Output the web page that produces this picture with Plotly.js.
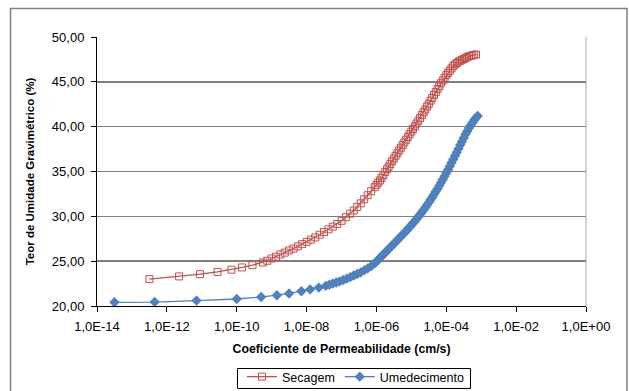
<!DOCTYPE html>
<html>
<head>
<meta charset="utf-8">
<script src="https://cdn.plot.ly/plotly-3.0.1.min.js"></script>
<style>
html,body{margin:0;padding:0;background:#fff;}
#chart{width:629px;height:391px;}
</style>
</head>
<body>
<div id="chart"></div>
<script>
// Secagem (drying) series: permeability (cm/s) and gravimetric moisture (%)
var secagemK = [3.16e-13,2.24e-12,8.91e-12,2.82e-11,7.08e-11,1.41e-10,2.82e-10,5.62e-10,
  7.50e-10,1e-9,1.33e-9,1.78e-9,2.37e-9,3.16e-9,4.22e-9,5.62e-9,7.50e-9,1e-8,1.33e-8,1.78e-8,2.37e-8,3.16e-8,4.22e-8,5.62e-8,7.50e-8,1e-7,1.33e-7,1.78e-7,
  2.24e-7,2.82e-7,3.55e-7,4.47e-7,5.62e-7,7.08e-7,8.91e-7,1e-6,1.12e-6,1.26e-6,1.41e-6,1.58e-6,1.78e-6,2.0e-6,2.24e-6,2.51e-6,2.82e-6,3.16e-6,3.55e-6,3.98e-6,4.47e-6,5.01e-6,5.62e-6,6.31e-6,7.08e-6,7.94e-6,8.91e-6,
  1e-5,1.12e-5,1.26e-5,1.41e-5,1.58e-5,1.78e-5,2.0e-5,2.24e-5,2.51e-5,2.82e-5,3.16e-5,3.55e-5,3.98e-5,4.47e-5,5.01e-5,5.62e-5,6.31e-5,7.08e-5,7.94e-5,8.91e-5,
  1e-4,1.12e-4,1.26e-4,1.41e-4,1.58e-4,1.78e-4,2.0e-4,2.24e-4,2.51e-4,2.82e-4,3.16e-4,3.55e-4,3.98e-4,4.47e-4,5.01e-4,5.62e-4,6.31e-4,7.08e-4];
var secagemW = [23.0,23.3,23.55,23.8,24.05,24.3,24.55,24.85,
  25.05,25.3,25.5,25.75,25.95,26.2,26.4,26.65,26.9,27.15,27.4,27.65,27.95,28.25,28.55,28.85,29.15,29.5,29.9,30.3,
  30.65,31.05,31.45,31.9,32.35,32.8,33.25,33.5,33.75,34.0,34.3,34.6,34.95,35.25,35.55,35.85,36.15,36.45,36.75,37.05,37.35,37.65,37.95,38.25,38.55,38.85,39.15,
  39.45,39.75,40.05,40.35,40.65,40.95,41.3,41.6,41.9,42.25,42.55,42.9,43.2,43.55,43.85,44.2,44.5,44.85,45.15,45.45,
  45.75,46.0,46.25,46.5,46.75,46.95,47.1,47.25,47.35,47.45,47.55,47.65,47.75,47.85,47.9,47.95,48.0,48.05];

// Umedecimento (wetting) series
var umedK = [3.16e-14,4.47e-13,7.08e-12,1.0e-10,5.01e-10,1.41e-9,3.16e-9,7.08e-9,1.26e-8,2.24e-8,3.55e-8,
  4.47e-8,5.62e-8,7.08e-8,8.91e-8,1.12e-7,1.41e-7,1.78e-7,2.24e-7,2.82e-7,3.55e-7,4.47e-7,5.62e-7,7.08e-7,8.91e-7,
  1e-6,1.12e-6,1.26e-6,1.41e-6,1.58e-6,1.78e-6,2.0e-6,2.24e-6,2.51e-6,2.82e-6,3.16e-6,3.55e-6,3.98e-6,4.47e-6,5.01e-6,5.62e-6,6.31e-6,7.08e-6,7.94e-6,8.91e-6,
  1e-5,1.12e-5,1.26e-5,1.41e-5,1.58e-5,1.78e-5,2.0e-5,2.24e-5,2.51e-5,2.82e-5,3.16e-5,3.55e-5,3.98e-5,4.47e-5,5.01e-5,5.62e-5,6.31e-5,7.08e-5,7.94e-5,8.91e-5,
  1e-4,1.12e-4,1.26e-4,1.41e-4,1.58e-4,1.78e-4,2.0e-4,2.24e-4,2.51e-4,2.82e-4,3.16e-4,3.55e-4,3.98e-4,4.47e-4,5.01e-4,5.62e-4,6.31e-4,7.08e-4,7.94e-4];
var umedW = [20.41,20.44,20.6,20.78,21.0,21.2,21.4,21.65,21.85,22.05,22.25,
  22.37,22.5,22.62,22.75,22.9,23.05,23.22,23.4,23.57,23.75,23.97,24.2,24.45,24.75,
  24.95,25.15,25.35,25.55,25.75,25.95,26.15,26.35,26.55,26.75,26.95,27.15,27.35,27.55,27.75,27.95,28.15,28.35,28.6,28.8,
  29.0,29.25,29.45,29.7,29.95,30.2,30.46,30.72,30.99,31.27,31.55,31.84,32.14,32.45,32.77,33.09,33.42,33.76,34.11,34.47,
  34.83,35.2,35.58,35.97,36.36,36.75,37.15,37.55,37.95,38.35,38.75,39.15,39.5,39.85,40.15,40.45,40.75,41.0,41.2];

var xTickVals = [1e-14,1e-12,1e-10,1e-8,1e-6,1e-4,1e-2,1];
var xTickText = ["1,0E-14","1,0E-12","1,0E-10","1,0E-08","1,0E-06","1,0E-04","1,0E-02","1,0E+00"];
var seriesNames = ["Secagem","Umedecimento"];

var FONT = "'Liberation Sans', Arial, sans-serif";
var RED = "#C0504D", BLUE = "#4F81BD";

var traces = [
  {x: secagemK, y: secagemW, name: seriesNames[0], type: "scatter", mode: "lines+markers",
   line: {color: RED, width: 1.3},
   marker: {symbol: "square-open", size: 7, color: RED, line: {color: RED, width: 1}}},
  {x: umedK, y: umedW, name: seriesNames[1], type: "scatter", mode: "lines+markers",
   line: {color: BLUE, width: 1.3},
   marker: {symbol: "diamond", size: 8, color: BLUE, line: {width: 0}}}
];

// frame in paper coords: plot area x 97..586, y 37..306
function px(x){return (x-97)/489;}
function py(y){return (306-y)/269;}

var layout = {
  width: 629, height: 391,
  margin: {l: 97, r: 43, t: 37, b: 85, autoexpand: false},
  paper_bgcolor: "#fff", plot_bgcolor: "#fff",
  separators: ",.",
  font: {family: FONT, size: 12, color: "#000"},
  showlegend: true,
  legend: {orientation: "h", x: px(242), y: py(362), xanchor: "left", yanchor: "top",
           borderwidth: 0, bgcolor: "rgba(0,0,0,0)", font: {family: FONT, size: 12.5, color: "#000"},
           itemwidth: 30, tracegroupgap: 0},
  xaxis: {type: "log", range: [-14, 0], tickmode: "array", tickvals: xTickVals, ticktext: xTickText,
          showgrid: false, zeroline: false, showline: true, linecolor: "#000", linewidth: 1,
          ticks: "outside", ticklen: 5, tickcolor: "#000", tickfont: {family: FONT, size: 13, color: "#000"},
          ticklabelstandoff: 3, automargin: false,
          title: {text: "<b>Coeficiente de Permeabilidade (cm/s)</b>", font: {family: FONT, size: 12.3, color: "#000"}, standoff: 11}},
  yaxis: {range: [20, 50], dtick: 5, tick0: 20, tickformat: ".2f",
          showgrid: true, gridcolor: "#7F7F7F", gridwidth: 1.5, zeroline: false,
          showline: true, linecolor: "#000", linewidth: 1, automargin: false,
          ticks: "outside", ticklen: 5, tickcolor: "#000", tickfont: {family: FONT, size: 13, color: "#000"},
          ticklabelstandoff: 4,
          title: {text: "<b>Teor de Umidade Gravimétrico (%)</b>", font: {family: FONT, size: 11.5, color: "#000"}, standoff: 14}},
  shapes: [
    {type: "line", xref: "paper", yref: "paper", x0: 1, x1: 1, y0: 0, y1: 1, line: {color: "#A6A6A6", width: 1}},
    {type: "rect", xref: "paper", yref: "paper", x0: px(10.5), x1: px(627), y0: py(8.5), y1: py(392), line: {color: "#808080", width: 1.5}},
    {type: "rect", xref: "paper", yref: "paper", x0: px(237.5), x1: px(470.5), y0: py(368.5), y1: py(388.5), line: {color: "#000", width: 1}}
  ]
};

Plotly.newPlot("chart", traces, layout, {displayModeBar: false, staticPlot: true});
</script>
</body>
</html>
